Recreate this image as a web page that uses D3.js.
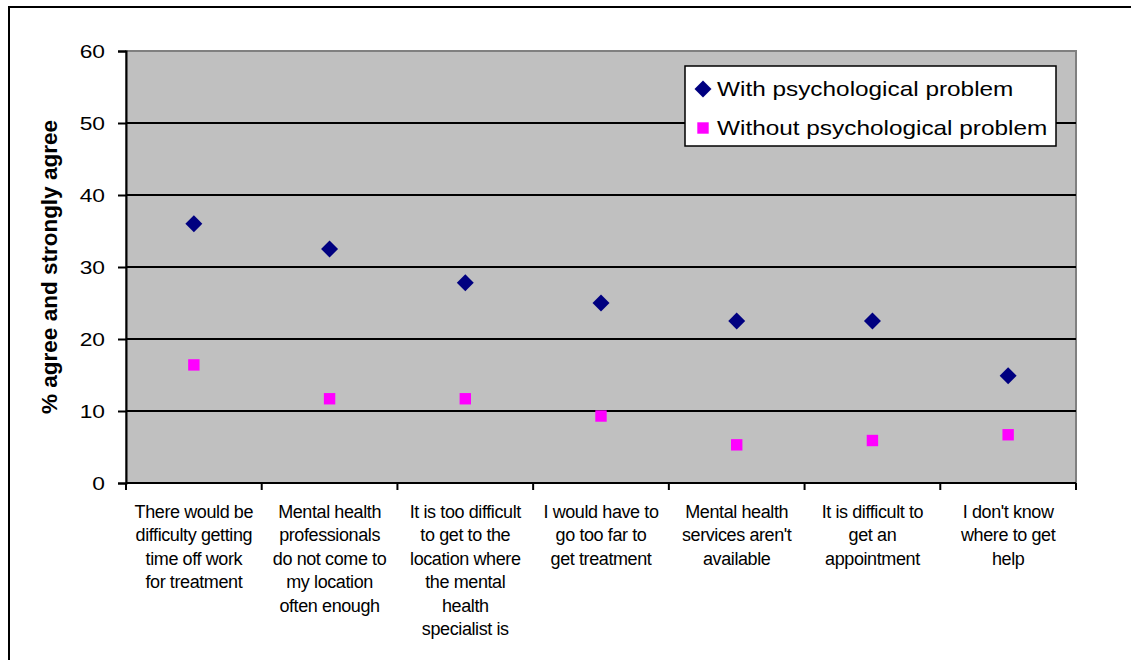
<!DOCTYPE html>
<html>
    <head>
        <meta charset="UTF-8"/>
        <style>
            body { margin: 0; background: #fff; }
            text { font-family: Arial, "Liberation Sans", sans-serif; }
        </style>
    </head>
    <body>
        <svg width="1131" height="660"></svg>
        <script src="https://d3js.org/d3.v7.min.js" type="text/javascript"></script>
        <script>
            let categories = [
                ["There would be", "difficulty getting", "time off work", "for treatment"],
                ["Mental health", "professionals", "do not come to", "my location", "often enough"],
                ["It is too difficult", "to get to the", "location where", "the mental", "health", "specialist is"],
                ["I would have to", "go too far to", "get treatment"],
                ["Mental health", "services aren't", "available"],
                ["It is difficult to", "get an", "appointment"],
                ["I don't know", "where to get", "help"]
            ];
            let withProblem = [36.0, 32.5, 27.8, 25.0, 22.5, 22.5, 14.9];
            let withoutProblem = [16.4, 11.7, 11.7, 9.3, 5.3, 5.9, 6.7];
            let yTicks = [0, 10, 20, 30, 40, 50, 60];
            let seriesNames = ["With psychological problem", "Without psychological problem"];

            let svg = d3.select("svg");
            let plotLeft = 126, plotRight = 1076, plotTop = 51, plotBottom = 483;
            let stretch = 1.2; // the text in the picture is a bit wide

            // outer frame
            svg.append("rect")
                .attr("x", 9).attr("y", 7)
                .attr("width", 1140).attr("height", 680)
                .attr("fill", "none").attr("stroke", "#000").attr("stroke-width", 2);

            let x = d3.scaleBand()
                .domain(d3.range(categories.length))
                .range([plotLeft, plotRight]);
            let y = d3.scaleLinear()
                .domain([0, 60])
                .range([plotBottom, plotTop]);

            // plot area
            svg.append("rect")
                .attr("x", plotLeft).attr("y", plotTop)
                .attr("width", plotRight - plotLeft).attr("height", plotBottom - plotTop)
                .attr("fill", "#c0c0c0").attr("stroke", "#808080").attr("stroke-width", 2);

            // gridlines
            svg.selectAll(".grid")
                .data(yTicks.filter(d => d > 0 && d < 60))
                .enter().append("line")
                .attr("x1", plotLeft).attr("x2", plotRight)
                .attr("y1", d => y(d)).attr("y2", d => y(d))
                .attr("stroke", "#000").attr("stroke-width", 2);

            // y axis
            let yAxis = svg.append("g")
                .attr("transform", "translate(" + plotLeft + ",0)")
                .call(d3.axisLeft(y).tickValues(yTicks).tickSize(8).tickPadding(13));
            yAxis.select(".domain").attr("stroke", "#000").attr("stroke-width", 2);
            yAxis.selectAll(".tick line").attr("stroke-width", 2);
            yAxis.selectAll("text")
                .attr("font-size", 19)
                .attr("font-family", "Arial, 'Liberation Sans', sans-serif")
                .attr("fill", "#000")
                .attr("transform", "translate(-21,0) scale(" + stretch + ",1)")
                .attr("x", 0);

            // x axis with ticks on the band boundaries
            let bounds = d3.range(categories.length + 1).map(i => plotLeft + i * x.step());
            svg.append("line")
                .attr("x1", plotLeft).attr("x2", plotRight)
                .attr("y1", plotBottom).attr("y2", plotBottom)
                .attr("stroke", "#000").attr("stroke-width", 2);
            svg.selectAll(".xtick")
                .data(bounds)
                .enter().append("line")
                .attr("x1", d => d).attr("x2", d => d)
                .attr("y1", plotBottom).attr("y2", plotBottom + 7)
                .attr("stroke", "#000").attr("stroke-width", 2);

            // category labels
            let labels = svg.selectAll(".cat")
                .data(categories)
                .enter().append("text")
                .attr("text-anchor", "middle")
                .attr("font-size", 18)
                .attr("letter-spacing", -0.4)
                .attr("fill", "#000");
            labels.selectAll("tspan")
                .data((d, i) => d.map(s => ({s: s, i: i})))
                .enter().append("tspan")
                .attr("x", d => x(d.i) + x.bandwidth() / 2)
                .attr("y", (d, j) => 518 + j * 23.4)
                .text(d => d.s);

            // y title
            svg.append("text")
                .attr("transform", "translate(57," + ((plotTop + plotBottom) / 2) + ") rotate(-90)")
                .attr("text-anchor", "middle")
                .attr("font-size", 22.5)
                .attr("font-weight", "bold")
                .text("% agree and strongly agree");

            let diamond = d3.symbol().type(d3.symbolSquare).size(144);
            let square = d3.symbol().type(d3.symbolSquare).size(130);

            svg.selectAll(".with")
                .data(withProblem)
                .enter().append("path")
                .attr("d", diamond)
                .attr("transform", (d, i) => "translate(" + (x(i) + x.bandwidth() / 2) + "," + y(d) + ") rotate(45)")
                .attr("fill", "#000080");

            svg.selectAll(".without")
                .data(withoutProblem)
                .enter().append("path")
                .attr("d", square)
                .attr("transform", (d, i) => "translate(" + (x(i) + x.bandwidth() / 2) + "," + y(d) + ")")
                .attr("fill", "#ff00ff");

            // legend
            let lg = svg.append("g");
            lg.append("rect")
                .attr("x", 685).attr("y", 66)
                .attr("width", 371).attr("height", 80)
                .attr("fill", "#fff").attr("stroke", "#000").attr("stroke-width", 1.5);
            lg.append("path")
                .attr("d", diamond)
                .attr("transform", "translate(703,89) rotate(45)")
                .attr("fill", "#000080");
            lg.append("path")
                .attr("d", square)
                .attr("transform", "translate(703,128)")
                .attr("fill", "#ff00ff");
            lg.selectAll(".lt")
                .data(seriesNames)
                .enter().append("text")
                .attr("transform", (d, i) => "translate(717," + (96 + i * 39) + ") scale(1.16,1)")
                .attr("font-size", 21)
                .attr("fill", "#000")
                .text(d => d);
        </script>
    </body>
</html>
